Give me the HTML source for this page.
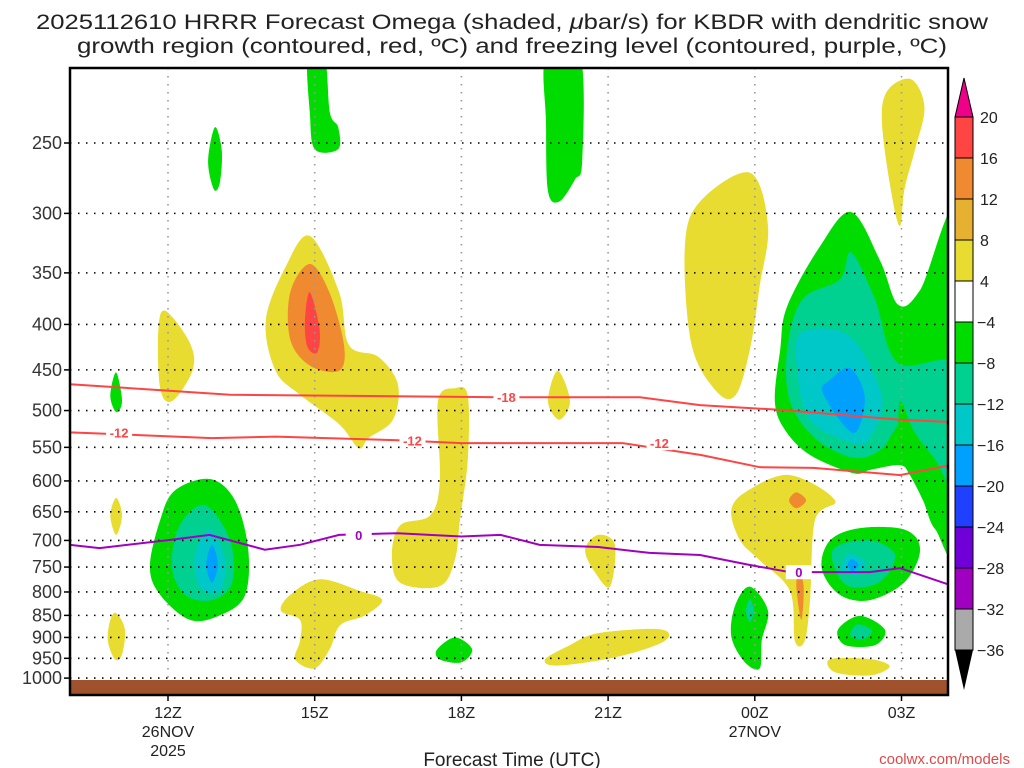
<!DOCTYPE html>
<html><head><meta charset="utf-8"><style>
body{margin:0;background:#fff;}
svg{display:block;font-family:"Liberation Sans",sans-serif;}
</style></head><body>
<svg id="chart" width="1024" height="768" viewBox="0 0 1024 768">
<text x="512" y="29" text-anchor="middle" font-size="21" fill="#222" textLength="952" lengthAdjust="spacingAndGlyphs">2025112610 HRRR Forecast Omega (shaded, <tspan font-style="italic">μ</tspan>bar/s) for KBDR with dendritic snow</text>
<text x="512" y="53" text-anchor="middle" font-size="21" fill="#222" textLength="870" lengthAdjust="spacingAndGlyphs">growth region (contoured, red, ºC) and freezing level (contoured, purple, ºC)</text>
<g id="plot"></g>
<g id="cbar"></g>
<text x="512" y="766" text-anchor="middle" font-size="19" fill="#222">Forecast Time (UTC)</text>
<text x="1010" y="764" text-anchor="end" font-size="15" fill="#e04848">coolwx.com/models</text>
</svg>
<script>
const xTickHours=[12,15,18,21,24,27];
const xTickLabels=["12Z","15Z","18Z","21Z","00Z","03Z"];
const xSubLabels={12:["26NOV","2025"],24:["27NOV"]};
const yTicks=[250,300,350,400,450,500,550,600,650,700,750,800,850,900,950,1000];
const cbLevels=[20,16,12,8,4,-4,-8,-12,-16,-20,-24,-28,-32,-36];
const cbColors=["#ff4444","#f08a30","#e6b030","#e8dc30","#ffffff","#00dc00","#00d090","#00c8c8","#00a0ff","#2040ff","#7000d8","#a000c0","#aaaaaa"];
const C={y:"#e8dc30",o:"#f08a30",r:"#ff4444",g:"#00dc00",t:"#00d090",c:"#00c8c8",b:"#00a0ff"};
// shaded regions: [colorKey, [[hour, hPa],...]]
const regions=[
["y",[[14.4,345],[14.9,318],[15.5,368],[15.7,422],[16.3,435],[16.7,467],[16.6,512],[16.1,537],[15.9,551],[15.5,518],[14.7,480],[14.2,451],[14.0,396]]],
["o",[[14.9,342],[15.3,368],[15.6,422],[15.5,451],[14.9,445],[14.5,416],[14.5,368]]],
["r",[[14.9,368],[15.1,405],[15.05,430],[14.85,424],[14.8,396]]],
["g",[[14.86,200],[15.2,200],[15.31,231],[15.48,240],[15.48,254],[15.0,254],[14.9,231]]],
["g",[[19.73,200],[20.43,200],[20.47,262],[20.32,275],[20.0,291],[19.77,283],[19.73,237]]],
["g",[[12.96,240],[13.1,255],[13.06,277],[12.94,282],[12.82,262]]],
["y",[[11.94,386],[12.45,420],[12.5,451],[12.08,488],[11.84,472],[11.8,408]]],
["g",[[10.94,453],[11.06,488],[10.94,502],[10.82,481]]],
["y",[[17.87,472],[18.13,481],[18.13,568],[17.97,664],[17.87,735],[17.56,788],[16.75,781],[16.58,726],[16.75,673],[17.36,656],[17.56,600],[17.52,488]]],
["y",[[19.97,451],[20.22,488],[20.0,512],[19.77,488]]],
["y",[[22.88,291],[23.9,270],[24.27,310],[24.1,362],[23.9,427],[23.6,481],[23.19,474],[22.7,420],[22.57,327]]],
["y",[[26.72,218],[27.2,212],[27.47,228],[27.27,255],[27.06,282],[26.97,310],[26.8,286],[26.6,237]]],
["g",[[25.97,299],[26.56,339],[26.93,380],[27.38,366],[28.2,300],[28.2,700],[27.69,680],[27.44,631],[27.17,591],[26.97,576],[26.36,583],[26.01,588],[25.13,561],[24.62,526],[24.41,488],[24.52,427],[24.66,382],[25.33,327]]],
["t",[[25.97,332],[26.46,375],[26.93,442],[28.2,448],[28.2,620],[27.69,568],[27.38,540],[27.07,512],[26.87,525],[26.56,554],[26.01,565],[25.23,537],[24.72,488],[24.66,427],[24.97,375],[25.74,356]]],
["g",[[26.97,488],[27.2,520],[27.5,570],[27.7,640],[27.3,600],[26.97,545]]],
["c",[[24.97,408],[25.95,413],[26.6,483],[26.36,535],[26.01,544],[25.13,512],[24.86,447]]],
["b",[[25.95,448],[26.25,484],[26.01,530],[25.39,478],[25.54,462]]],
["g",[[12.14,615],[12.86,597],[13.37,631],[13.64,716],[13.57,808],[13.06,850],[12.45,860],[11.84,806],[11.63,749],[11.84,664]]],
["t",[[12.76,639],[13.27,700],[13.31,781],[12.9,817],[12.35,806],[12.08,749],[12.24,673]]],
["c",[[12.86,681],[13.17,737],[13.06,798],[12.65,789],[12.55,727]]],
["b",[[12.9,708],[13.02,745],[12.9,781],[12.78,745]]],
["y",[[10.94,627],[11.06,656],[10.94,690],[10.82,656]]],
["y",[[10.94,845],[11.12,882],[11.06,940],[10.92,953],[10.77,908],[10.82,860]]],
["y",[[14.5,806],[15.1,774],[15.93,798],[16.38,817],[16.03,850],[15.52,872],[15.31,927],[15.0,975],[14.6,953],[14.7,908],[14.7,860],[14.31,840]]],
["g",[[17.87,900],[18.22,928],[18.0,960],[17.56,953],[17.5,929]]],
["y",[[20.8,890],[22.06,881],[22.16,908],[21.24,945],[20.0,968],[19.71,953],[20.22,918]]],
["y",[[20.8,690],[21.14,708],[21.04,789],[20.73,760],[20.53,717]]],
["y",[[23.86,615],[24.72,591],[25.64,631],[25.23,664],[25.13,817],[25.02,908],[24.82,908],[24.72,798],[24.1,737],[23.7,700],[23.52,647]]],
["o",[[24.85,618],[25.05,631],[24.85,644],[24.7,631]]],
["o",[[24.9,760],[25.0,790],[24.95,860],[24.85,790]]],
["g",[[23.9,789],[24.27,840],[24.14,908],[24.1,975],[23.8,960],[23.52,898],[23.6,828]]],
["t",[[23.9,815],[23.98,840],[23.9,865],[23.82,840]]],
["g",[[25.54,700],[26.15,678],[27.07,681],[27.38,717],[27.07,779],[26.36,817],[25.74,806],[25.37,753]]],
["t",[[25.64,713],[26.36,700],[26.87,727],[26.56,779],[25.95,789],[25.64,753]]],
["c",[[25.9,725],[26.25,740],[26.1,765],[25.8,755]]],
["b",[[25.98,735],[26.12,745],[26.0,758],[25.9,746]]],
["g",[[26.15,851],[26.66,882],[26.46,918],[25.85,918],[25.7,882]]],
["t",[[26.1,870],[26.4,885],[26.2,905],[25.95,895]]],
["y",[[25.54,952],[26.36,952],[26.76,970],[26.36,993],[25.64,985]]]
];
const dgzHours18=[10,13.27,18.8,21.65,22.88,24.5,26.97,28];
const dgzP18=[467,480,483,483,493,499,512,515];
const dgzHours12=[10,12.9,14.2,16.7,18,21.3,22.9,24.1,25.2,26.97,28];
const dgzP12=[529,537,535,540,544,544,561,579,580,591,576];
const frzHours=[10,10.6,12.05,12.85,13.98,14.7,15.5,16.7,18,18.8,19.6,20.8,21.85,22.88,23.9,24.72,26.35,26.97,28];
const frzP=[708,714,699,690,717,708,690,687,693,690,708,712,723,727,746,760,760,752,786];
const labels=[["-18",18.92,483,"#ff4444"],["-12",11.0,529,"#ff4444"],["-12",17.0,540,"#ff4444"],["-12",22.05,544,"#ff4444"],["0",15.9,690,"#a000c0"],["0",24.9,760,"#a000c0"]];

const L=70,R=948,T=68,B=695;
const X=h=>168+(h-12)*48.9;
const Y=p=>143+386*Math.log(p/250);
const NS="http://www.w3.org/2000/svg";
function mk(tag,attrs,parent){const e=document.createElementNS(NS,tag);for(const k in attrs)e.setAttribute(k,attrs[k]);parent.appendChild(e);return e;}
function smooth(pts){const n=pts.length;let d=`M${pts[0][0]},${pts[0][1]}`;for(let i=0;i<n;i++){const p0=pts[(i-1+n)%n],p1=pts[i],p2=pts[(i+1)%n],p3=pts[(i+2)%n];const c1=[p1[0]+(p2[0]-p0[0])/6,p1[1]+(p2[1]-p0[1])/6],c2=[p2[0]-(p3[0]-p1[0])/6,p2[1]-(p3[1]-p1[1])/6];d+=`C${c1[0]},${c1[1]} ${c2[0]},${c2[1]} ${p2[0]},${p2[1]}`;}return d+"Z";}
const plot=document.getElementById('plot');
mk('defs',{},plot).innerHTML='<clipPath id="clip"><rect x="70" y="68" width="878" height="627"/></clipPath>';
const g=mk('g',{'clip-path':'url(#clip)'},plot);
regions.forEach(([c,pts])=>{const e=mk('path',{d:smooth(pts.map(q=>[X(q[0]),Y(q[1])])),fill:C[c]},g);

});
yTicks.forEach(p=>{const e=mk('line',{x1:L,x2:R,y1:Y(p),y2:Y(p),stroke:'#000','stroke-width':1.6,'stroke-dasharray':'1.5 6.5'},g);

});
xTickHours.forEach(h=>{const e=mk('line',{x1:X(h),x2:X(h),y1:T,y2:B,stroke:'#999','stroke-width':1.6,'stroke-dasharray':'1.5 6.5'},g);

});
function line(hs,ps,col,name){const e=mk('polyline',{points:hs.map((h,i)=>X(h)+','+Y(ps[i])).join(' '),fill:'none',stroke:col,'stroke-width':2},g);

}
line(dgzHours18,dgzP18,'#ff4444','dgz-minus18-contour');
line(dgzHours12,dgzP12,'#ff4444','dgz-minus12-contour');
line(frzHours,frzP,'#a000c0','freezing-level-contour');
labels.forEach(([t,h,p,c])=>{const bg=mk('rect',{x:X(h)-13,y:Y(p)-7,width:26,height:14,fill:'#fff'},g);


const e=mk('text',{x:X(h),y:Y(p)+5,'text-anchor':'middle','font-size':13,'font-weight':'bold',fill:c},g);e.textContent=t;

});
const gr=mk('rect',{x:L,y:680,width:R-L,height:B-680,fill:'#a0522d'},g);


const fr=mk('rect',{x:L,y:T,width:R-L,height:B-T,fill:'none',stroke:'#000','stroke-width':2.5},plot);


yTicks.forEach(p=>{const e=mk('text',{x:62,y:Y(p)+6,'text-anchor':'end','font-size':18,fill:'#333'},plot);e.textContent=p;


const tk=mk('line',{x1:L-6,x2:L,y1:Y(p),y2:Y(p),stroke:'#000','stroke-width':1.5},plot);

});
xTickHours.forEach((h,i)=>{const tk=mk('line',{x1:X(h),x2:X(h),y1:B,y2:B+6,stroke:'#000','stroke-width':1.5},plot);


const lines=[xTickLabels[i]].concat(xSubLabels[h]||[]);
lines.forEach((t,j)=>{const e=mk('text',{x:X(h),y:718+j*19,'text-anchor':'middle','font-size':16,fill:'#222'},plot);e.textContent=t;

});});
// colorbar
const cb=document.getElementById('cbar');
const cx=955,cw=18,ct=117,ch=(650-117)/(cbLevels.length-1);
cbColors.forEach((c,i)=>{const e=mk('rect',{x:cx,y:ct+i*ch,width:cw,height:ch,fill:c,stroke:'#000','stroke-width':1},cb);

});
const up=mk('polygon',{points:`${cx},${ct} ${cx+cw},${ct} ${cx+cw/2},78`,fill:'#ee0088',stroke:'#000','stroke-width':1},cb);


const dn=mk('polygon',{points:`${cx},650 ${cx+cw},650 ${cx+cw/2},690`,fill:'#000'},cb);


cbLevels.forEach((v,i)=>{const e=mk('text',{x:v<0?977:980,y:ct+i*ch+6,'font-size':16,fill:'#222'},cb);e.textContent=v<0?'−'+(-v):v;

});
</script>
</body></html>
